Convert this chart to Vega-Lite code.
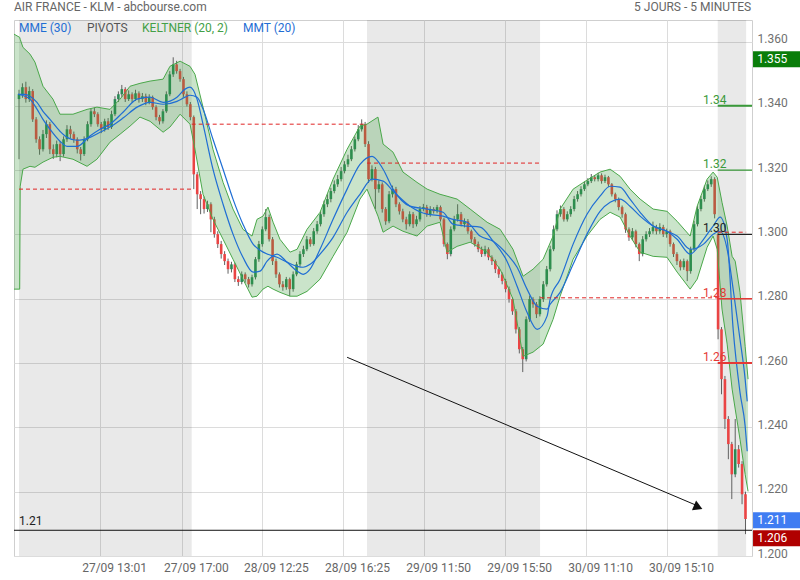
{
"$schema":"https://vega.github.io/schema/vega-lite/v6.json",
"width":738,"height":536,
"autosize":"none",
"padding":{"left":14,"top":20,"right":48,"bottom":24},
"background":"white",
"config":{"view":{"stroke":"#cfcfcf"},"axis":{"labelFont":"Roboto"},"text":{"font":"Roboto"}},
"datasets":{
"sessions":[{"a":0,"b":100.8},{"a":203.1,"b":304.1},{"a":407.8,"b":424.4}],
"candles":[
{"t":0,"o":1.3421,"h":1.345,"l":1.3234,"c":1.3436},
{"t":2,"o":1.3436,"h":1.347,"l":1.3425,"c":1.3458},
{"t":4,"o":1.3458,"h":1.3475,"l":1.341,"c":1.3421},
{"t":6,"o":1.3421,"h":1.346,"l":1.3412,"c":1.3446},
{"t":8,"o":1.3446,"h":1.3452,"l":1.335,"c":1.3358},
{"t":10,"o":1.3358,"h":1.3365,"l":1.3285,"c":1.3296},
{"t":12,"o":1.3296,"h":1.3305,"l":1.3248,"c":1.3265},
{"t":14,"o":1.3265,"h":1.3325,"l":1.3258,"c":1.3312},
{"t":16,"o":1.3312,"h":1.3355,"l":1.33,"c":1.3343},
{"t":18,"o":1.3343,"h":1.335,"l":1.325,"c":1.3265},
{"t":20,"o":1.3265,"h":1.328,"l":1.3235,"c":1.325},
{"t":22,"o":1.325,"h":1.3292,"l":1.324,"c":1.3281},
{"t":24,"o":1.3281,"h":1.329,"l":1.3228,"c":1.325},
{"t":26,"o":1.325,"h":1.3305,"l":1.3242,"c":1.3296},
{"t":28,"o":1.3296,"h":1.334,"l":1.3288,"c":1.3327},
{"t":30,"o":1.3327,"h":1.3338,"l":1.33,"c":1.3312},
{"t":32,"o":1.3312,"h":1.332,"l":1.3285,"c":1.3296},
{"t":34,"o":1.3296,"h":1.3302,"l":1.3252,"c":1.3265},
{"t":36,"o":1.3265,"h":1.3272,"l":1.323,"c":1.325},
{"t":38,"o":1.325,"h":1.3305,"l":1.3244,"c":1.3296},
{"t":40,"o":1.3296,"h":1.3352,"l":1.329,"c":1.3343},
{"t":42,"o":1.3343,"h":1.3392,"l":1.3335,"c":1.3383},
{"t":44,"o":1.3383,"h":1.3395,"l":1.3365,"c":1.3374},
{"t":46,"o":1.3374,"h":1.338,"l":1.3335,"c":1.3343},
{"t":48,"o":1.3343,"h":1.335,"l":1.3315,"c":1.3327},
{"t":50,"o":1.3327,"h":1.336,"l":1.332,"c":1.3352},
{"t":52,"o":1.3352,"h":1.3362,"l":1.3325,"c":1.3334},
{"t":54,"o":1.3334,"h":1.3385,"l":1.3328,"c":1.3374},
{"t":56,"o":1.3374,"h":1.343,"l":1.3368,"c":1.3421},
{"t":58,"o":1.3421,"h":1.3445,"l":1.3412,"c":1.3436},
{"t":60,"o":1.3436,"h":1.3465,"l":1.3428,"c":1.3452},
{"t":62,"o":1.3452,"h":1.3458,"l":1.3412,"c":1.3421},
{"t":64,"o":1.3421,"h":1.3448,"l":1.3415,"c":1.3436},
{"t":66,"o":1.3436,"h":1.3442,"l":1.341,"c":1.3421},
{"t":68,"o":1.3421,"h":1.345,"l":1.3415,"c":1.3439},
{"t":70,"o":1.3439,"h":1.3445,"l":1.341,"c":1.3421},
{"t":72,"o":1.3421,"h":1.344,"l":1.3412,"c":1.343},
{"t":74,"o":1.343,"h":1.3438,"l":1.3402,"c":1.3411},
{"t":76,"o":1.3411,"h":1.3436,"l":1.3405,"c":1.3427},
{"t":78,"o":1.3427,"h":1.3432,"l":1.3388,"c":1.3396},
{"t":80,"o":1.3396,"h":1.3402,"l":1.3355,"c":1.3365},
{"t":82,"o":1.3365,"h":1.3372,"l":1.3342,"c":1.3352},
{"t":84,"o":1.3352,"h":1.339,"l":1.3345,"c":1.3383},
{"t":86,"o":1.3383,"h":1.3445,"l":1.3378,"c":1.3436},
{"t":88,"o":1.3436,"h":1.3508,"l":1.343,"c":1.3498},
{"t":90,"o":1.3498,"h":1.3551,"l":1.349,"c":1.3529},
{"t":92,"o":1.3529,"h":1.354,"l":1.35,"c":1.3508},
{"t":94,"o":1.3508,"h":1.3515,"l":1.3475,"c":1.3483},
{"t":96,"o":1.3483,"h":1.349,"l":1.3428,"c":1.3436},
{"t":98,"o":1.3436,"h":1.3445,"l":1.3398,"c":1.3405},
{"t":100,"o":1.3405,"h":1.3412,"l":1.3355,"c":1.3365},
{"t":102,"o":1.3365,"h":1.337,"l":1.3141,"c":1.3187},
{"t":104,"o":1.3187,"h":1.3195,"l":1.3079,"c":1.3125},
{"t":106,"o":1.3125,"h":1.3135,"l":1.3063,"c":1.311},
{"t":108,"o":1.311,"h":1.3118,"l":1.3065,"c":1.3079},
{"t":110,"o":1.3079,"h":1.3105,"l":1.307,"c":1.3094},
{"t":112,"o":1.3094,"h":1.31,"l":1.3007,"c":1.3047},
{"t":114,"o":1.3047,"h":1.3055,"l":1.299,"c":1.3001},
{"t":116,"o":1.3001,"h":1.301,"l":1.2958,"c":1.297},
{"t":118,"o":1.297,"h":1.298,"l":1.2925,"c":1.2939},
{"t":120,"o":1.2939,"h":1.2948,"l":1.2905,"c":1.2917},
{"t":122,"o":1.2917,"h":1.2925,"l":1.2878,"c":1.2892},
{"t":124,"o":1.2892,"h":1.2915,"l":1.2882,"c":1.2907},
{"t":126,"o":1.2907,"h":1.2912,"l":1.2852,"c":1.2861},
{"t":128,"o":1.2861,"h":1.287,"l":1.284,"c":1.2852},
{"t":130,"o":1.2852,"h":1.2885,"l":1.2845,"c":1.2876},
{"t":132,"o":1.2876,"h":1.2882,"l":1.285,"c":1.2861},
{"t":134,"o":1.2861,"h":1.2868,"l":1.2835,"c":1.2845},
{"t":136,"o":1.2845,"h":1.2875,"l":1.2838,"c":1.2867},
{"t":138,"o":1.2867,"h":1.293,"l":1.286,"c":1.2923},
{"t":140,"o":1.2923,"h":1.298,"l":1.2915,"c":1.297},
{"t":142,"o":1.297,"h":1.3025,"l":1.2962,"c":1.3016},
{"t":144,"o":1.3016,"h":1.3079,"l":1.301,"c":1.3054},
{"t":146,"o":1.3054,"h":1.3062,"l":1.2978,"c":1.2985},
{"t":148,"o":1.2985,"h":1.2992,"l":1.2905,"c":1.2917},
{"t":150,"o":1.2917,"h":1.2925,"l":1.2865,"c":1.2876},
{"t":152,"o":1.2876,"h":1.2882,"l":1.2835,"c":1.2845},
{"t":154,"o":1.2845,"h":1.2855,"l":1.2825,"c":1.2836},
{"t":156,"o":1.2836,"h":1.2868,"l":1.2828,"c":1.2861},
{"t":158,"o":1.2861,"h":1.2866,"l":1.2808,"c":1.283},
{"t":160,"o":1.283,"h":1.2885,"l":1.2822,"c":1.2876},
{"t":162,"o":1.2876,"h":1.2915,"l":1.287,"c":1.2907},
{"t":164,"o":1.2907,"h":1.2948,"l":1.29,"c":1.2939},
{"t":166,"o":1.2939,"h":1.2965,"l":1.293,"c":1.2954},
{"t":168,"o":1.2954,"h":1.2995,"l":1.2948,"c":1.2985},
{"t":170,"o":1.2985,"h":1.2992,"l":1.2962,"c":1.297},
{"t":172,"o":1.297,"h":1.302,"l":1.2965,"c":1.301},
{"t":174,"o":1.301,"h":1.3042,"l":1.3002,"c":1.3032},
{"t":176,"o":1.3032,"h":1.3072,"l":1.3025,"c":1.3063},
{"t":178,"o":1.3063,"h":1.3105,"l":1.3055,"c":1.3094},
{"t":180,"o":1.3094,"h":1.3125,"l":1.3085,"c":1.311},
{"t":182,"o":1.311,"h":1.3145,"l":1.31,"c":1.3135},
{"t":184,"o":1.3135,"h":1.3168,"l":1.3128,"c":1.3156},
{"t":186,"o":1.3156,"h":1.3185,"l":1.3148,"c":1.3172},
{"t":188,"o":1.3172,"h":1.321,"l":1.3165,"c":1.3197},
{"t":190,"o":1.3197,"h":1.3228,"l":1.319,"c":1.3218},
{"t":192,"o":1.3218,"h":1.3248,"l":1.321,"c":1.3234},
{"t":194,"o":1.3234,"h":1.3275,"l":1.3228,"c":1.3265},
{"t":196,"o":1.3265,"h":1.3305,"l":1.3258,"c":1.3296},
{"t":198,"o":1.3296,"h":1.334,"l":1.329,"c":1.3327},
{"t":200,"o":1.3327,"h":1.3358,"l":1.332,"c":1.3343},
{"t":202,"o":1.3343,"h":1.335,"l":1.3272,"c":1.3281},
{"t":204,"o":1.3281,"h":1.329,"l":1.316,"c":1.3172},
{"t":206,"o":1.3172,"h":1.3215,"l":1.3165,"c":1.3203},
{"t":208,"o":1.3203,"h":1.321,"l":1.3079,"c":1.3141},
{"t":210,"o":1.3141,"h":1.3168,"l":1.313,"c":1.3156},
{"t":212,"o":1.3156,"h":1.3162,"l":1.3068,"c":1.3079},
{"t":214,"o":1.3079,"h":1.3085,"l":1.303,"c":1.3041},
{"t":216,"o":1.3041,"h":1.3135,"l":1.3035,"c":1.3125},
{"t":218,"o":1.3125,"h":1.3152,"l":1.3115,"c":1.3141},
{"t":220,"o":1.3141,"h":1.3148,"l":1.3085,"c":1.3094},
{"t":222,"o":1.3094,"h":1.31,"l":1.3062,"c":1.3072},
{"t":224,"o":1.3072,"h":1.308,"l":1.3038,"c":1.3047},
{"t":226,"o":1.3047,"h":1.3055,"l":1.3015,"c":1.3032},
{"t":228,"o":1.3032,"h":1.3072,"l":1.3025,"c":1.3063},
{"t":230,"o":1.3063,"h":1.307,"l":1.302,"c":1.3032},
{"t":232,"o":1.3032,"h":1.3058,"l":1.3025,"c":1.3047},
{"t":234,"o":1.3047,"h":1.3088,"l":1.304,"c":1.3079},
{"t":236,"o":1.3079,"h":1.3095,"l":1.3072,"c":1.3085},
{"t":238,"o":1.3085,"h":1.3092,"l":1.3055,"c":1.3063},
{"t":240,"o":1.3063,"h":1.3088,"l":1.3055,"c":1.3079},
{"t":242,"o":1.3079,"h":1.3085,"l":1.3065,"c":1.3072},
{"t":244,"o":1.3072,"h":1.3092,"l":1.3066,"c":1.3085},
{"t":246,"o":1.3085,"h":1.309,"l":1.304,"c":1.3047},
{"t":248,"o":1.3047,"h":1.3052,"l":1.2962,"c":1.297},
{"t":250,"o":1.297,"h":1.2975,"l":1.2923,"c":1.2939},
{"t":252,"o":1.2939,"h":1.3025,"l":1.2932,"c":1.3016},
{"t":254,"o":1.3016,"h":1.3058,"l":1.301,"c":1.3047},
{"t":256,"o":1.3047,"h":1.3094,"l":1.304,"c":1.3063},
{"t":258,"o":1.3063,"h":1.307,"l":1.3025,"c":1.3032},
{"t":260,"o":1.3032,"h":1.305,"l":1.3022,"c":1.3041},
{"t":262,"o":1.3041,"h":1.3048,"l":1.3002,"c":1.301},
{"t":264,"o":1.301,"h":1.3015,"l":1.2975,"c":1.2985},
{"t":266,"o":1.2985,"h":1.2992,"l":1.2962,"c":1.297},
{"t":268,"o":1.297,"h":1.2978,"l":1.2945,"c":1.2954},
{"t":270,"o":1.2954,"h":1.2962,"l":1.293,"c":1.2939},
{"t":272,"o":1.2939,"h":1.2965,"l":1.2932,"c":1.2954},
{"t":274,"o":1.2954,"h":1.296,"l":1.292,"c":1.2929},
{"t":276,"o":1.2929,"h":1.2935,"l":1.2905,"c":1.2917},
{"t":278,"o":1.2917,"h":1.2922,"l":1.288,"c":1.2892},
{"t":280,"o":1.2892,"h":1.29,"l":1.2865,"c":1.2876},
{"t":282,"o":1.2876,"h":1.2882,"l":1.2845,"c":1.2855},
{"t":284,"o":1.2855,"h":1.2862,"l":1.282,"c":1.283},
{"t":286,"o":1.283,"h":1.2838,"l":1.2788,"c":1.2799},
{"t":288,"o":1.2799,"h":1.2805,"l":1.275,"c":1.2761},
{"t":290,"o":1.2761,"h":1.2768,"l":1.2692,"c":1.2705},
{"t":292,"o":1.2705,"h":1.2712,"l":1.263,"c":1.2643},
{"t":294,"o":1.2643,"h":1.265,"l":1.2572,"c":1.2612},
{"t":296,"o":1.2612,"h":1.2745,"l":1.2605,"c":1.2736},
{"t":298,"o":1.2736,"h":1.281,"l":1.2728,"c":1.2799},
{"t":300,"o":1.2799,"h":1.2805,"l":1.2772,"c":1.2783},
{"t":302,"o":1.2783,"h":1.279,"l":1.274,"c":1.2752},
{"t":304,"o":1.2752,"h":1.2808,"l":1.2745,"c":1.2799},
{"t":306,"o":1.2799,"h":1.2855,"l":1.279,"c":1.2845},
{"t":308,"o":1.2845,"h":1.2902,"l":1.2838,"c":1.2892},
{"t":310,"o":1.2892,"h":1.2965,"l":1.2885,"c":1.2954},
{"t":312,"o":1.2954,"h":1.3028,"l":1.2948,"c":1.3016},
{"t":314,"o":1.3016,"h":1.3075,"l":1.301,"c":1.3063},
{"t":316,"o":1.3063,"h":1.309,"l":1.3055,"c":1.3079},
{"t":318,"o":1.3079,"h":1.3085,"l":1.304,"c":1.3047},
{"t":320,"o":1.3047,"h":1.3072,"l":1.304,"c":1.3063},
{"t":322,"o":1.3063,"h":1.3088,"l":1.3055,"c":1.3079},
{"t":324,"o":1.3079,"h":1.312,"l":1.3072,"c":1.311},
{"t":326,"o":1.311,"h":1.3135,"l":1.3102,"c":1.3125},
{"t":328,"o":1.3125,"h":1.315,"l":1.3118,"c":1.3141},
{"t":330,"o":1.3141,"h":1.3165,"l":1.3135,"c":1.3156},
{"t":332,"o":1.3156,"h":1.3175,"l":1.315,"c":1.3166},
{"t":334,"o":1.3166,"h":1.3188,"l":1.316,"c":1.3178},
{"t":336,"o":1.3178,"h":1.3185,"l":1.3165,"c":1.3172},
{"t":338,"o":1.3172,"h":1.3192,"l":1.3165,"c":1.3184},
{"t":340,"o":1.3184,"h":1.319,"l":1.3158,"c":1.3166},
{"t":342,"o":1.3166,"h":1.3186,"l":1.316,"c":1.3178},
{"t":344,"o":1.3178,"h":1.3182,"l":1.3148,"c":1.3156},
{"t":346,"o":1.3156,"h":1.316,"l":1.3118,"c":1.3125},
{"t":348,"o":1.3125,"h":1.313,"l":1.31,"c":1.311},
{"t":350,"o":1.311,"h":1.3115,"l":1.3075,"c":1.3085},
{"t":352,"o":1.3085,"h":1.309,"l":1.3052,"c":1.3063},
{"t":354,"o":1.3063,"h":1.3068,"l":1.3005,"c":1.3016},
{"t":356,"o":1.3016,"h":1.3022,"l":1.298,"c":1.2991},
{"t":358,"o":1.2991,"h":1.302,"l":1.2982,"c":1.301},
{"t":360,"o":1.301,"h":1.3015,"l":1.296,"c":1.297},
{"t":362,"o":1.297,"h":1.2975,"l":1.2917,"c":1.2939},
{"t":364,"o":1.2939,"h":1.2995,"l":1.2932,"c":1.2985},
{"t":366,"o":1.2985,"h":1.301,"l":1.2978,"c":1.3001},
{"t":368,"o":1.3001,"h":1.302,"l":1.2992,"c":1.301},
{"t":370,"o":1.301,"h":1.304,"l":1.3002,"c":1.3023},
{"t":372,"o":1.3023,"h":1.303,"l":1.3,"c":1.301},
{"t":374,"o":1.301,"h":1.3035,"l":1.3002,"c":1.3023},
{"t":376,"o":1.3023,"h":1.303,"l":1.2992,"c":1.3001},
{"t":378,"o":1.3001,"h":1.3018,"l":1.299,"c":1.301},
{"t":380,"o":1.301,"h":1.3015,"l":1.2962,"c":1.297},
{"t":382,"o":1.297,"h":1.2975,"l":1.293,"c":1.2939},
{"t":384,"o":1.2939,"h":1.2945,"l":1.2905,"c":1.2917},
{"t":386,"o":1.2917,"h":1.2922,"l":1.2888,"c":1.2898},
{"t":388,"o":1.2898,"h":1.2925,"l":1.289,"c":1.2917},
{"t":390,"o":1.2917,"h":1.2922,"l":1.2855,"c":1.2886},
{"t":392,"o":1.2886,"h":1.2962,"l":1.2878,"c":1.2954},
{"t":394,"o":1.2954,"h":1.3042,"l":1.2948,"c":1.3032},
{"t":396,"o":1.3032,"h":1.3088,"l":1.3025,"c":1.3079},
{"t":398,"o":1.3079,"h":1.312,"l":1.3072,"c":1.311},
{"t":400,"o":1.311,"h":1.3152,"l":1.3102,"c":1.3141},
{"t":402,"o":1.3141,"h":1.3168,"l":1.3135,"c":1.3156},
{"t":404,"o":1.3156,"h":1.3181,"l":1.3148,"c":1.3172},
{"t":406,"o":1.3172,"h":1.3178,"l":1.305,"c":1.3063},
{"t":408,"o":1.3,"h":1.3005,"l":1.2674,"c":1.2705},
{"t":410,"o":1.2705,"h":1.2712,"l":1.2503,"c":1.255},
{"t":412,"o":1.255,"h":1.256,"l":1.2395,"c":1.2426},
{"t":414,"o":1.2426,"h":1.2435,"l":1.2301,"c":1.2348},
{"t":416,"o":1.2348,"h":1.2355,"l":1.2177,"c":1.2254},
{"t":418,"o":1.2254,"h":1.2426,"l":1.2245,"c":1.2332},
{"t":420,"o":1.2332,"h":1.2345,"l":1.2275,"c":1.2286},
{"t":422,"o":1.2286,"h":1.2295,"l":1.2161,"c":1.2192},
{"t":424,"o":1.2192,"h":1.22,"l":1.2068,"c":1.2115}
],
"band":[
{"t":-2.92,"up":1.3623,"lo":1.283},{"t":0.4,"up":1.3613,"lo":1.283},{"t":0.7,"up":1.3607,"lo":1.315},{"t":2.3,"up":1.3582,"lo":1.3203},{"t":6.4,"up":1.3561,"lo":1.3212},{"t":9.3,"up":1.3536,"lo":1.3209},{"t":14,"up":1.3461,"lo":1.3225},{"t":19.8,"up":1.3421,"lo":1.324},{"t":23.9,"up":1.3374,"lo":1.3243},{"t":31.5,"up":1.3374,"lo":1.3234},{"t":39.7,"up":1.3389,"lo":1.3212},{"t":45.5,"up":1.3396,"lo":1.3234},{"t":53.1,"up":1.3389,"lo":1.3287},{"t":59,"up":1.3421,"lo":1.3312},{"t":64.8,"up":1.3461,"lo":1.3337},{"t":70.6,"up":1.347,"lo":1.3365},{"t":76.5,"up":1.3477,"lo":1.3352},{"t":84.1,"up":1.3483,"lo":1.3318},{"t":88.1,"up":1.3523,"lo":1.3334},{"t":94,"up":1.3539,"lo":1.3374},{"t":99.8,"up":1.3523,"lo":1.3343},{"t":102.7,"up":1.3498,"lo":1.3265},{"t":107.4,"up":1.3396,"lo":1.3125},{"t":113.2,"up":1.3265,"lo":1.3047},{"t":119.1,"up":1.3162,"lo":1.2985},{"t":124.9,"up":1.3079,"lo":1.2923},{"t":130.7,"up":1.3016,"lo":1.2861},{"t":136,"up":1.2995,"lo":1.2805},{"t":138.9,"up":1.3047,"lo":1.2808},{"t":142.4,"up":1.3057,"lo":1.283},{"t":145.3,"up":1.3085,"lo":1.2839},{"t":148.3,"up":1.3038,"lo":1.283},{"t":152.3,"up":1.2985,"lo":1.282},{"t":158.2,"up":1.2945,"lo":1.2808},{"t":162.3,"up":1.2954,"lo":1.2808},{"t":168.1,"up":1.3016,"lo":1.2823},{"t":175.7,"up":1.3069,"lo":1.2861},{"t":183.3,"up":1.3172,"lo":1.2932},{"t":191.5,"up":1.3265,"lo":1.3007},{"t":199,"up":1.3337,"lo":1.311},{"t":203.1,"up":1.3343,"lo":1.3141},{"t":209.5,"up":1.3365,"lo":1.3057},{"t":212.5,"up":1.3281,"lo":1.3007},{"t":218.3,"up":1.3256,"lo":1.3026},{"t":224.1,"up":1.3194,"lo":1.301},{"t":232.3,"up":1.3162,"lo":1.2995},{"t":238.2,"up":1.3141,"lo":1.3026},{"t":245.7,"up":1.3125,"lo":1.3038},{"t":249.8,"up":1.3119,"lo":1.2945},{"t":255.7,"up":1.311,"lo":1.2963},{"t":263.3,"up":1.3079,"lo":1.2976},{"t":273.2,"up":1.3038,"lo":1.2945},{"t":280.8,"up":1.3016,"lo":1.2892},{"t":288.3,"up":1.2954,"lo":1.2799},{"t":294.2,"up":1.287,"lo":1.2621},{"t":300,"up":1.2892,"lo":1.2634},{"t":305.9,"up":1.2923,"lo":1.2659},{"t":311.7,"up":1.2995,"lo":1.2736},{"t":315.8,"up":1.3079,"lo":1.2808},{"t":323.4,"up":1.3141,"lo":1.2923},{"t":331.5,"up":1.3169,"lo":1.2995},{"t":339.1,"up":1.3194,"lo":1.3047},{"t":345,"up":1.3203,"lo":1.3069},{"t":350.8,"up":1.3181,"lo":1.3054},{"t":356.6,"up":1.3141,"lo":1.2995},{"t":362.5,"up":1.311,"lo":1.2945},{"t":370.1,"up":1.3079,"lo":1.2932},{"t":378.2,"up":1.3072,"lo":1.2929},{"t":384.1,"up":1.3041,"lo":1.2883},{"t":391.7,"up":1.2995,"lo":1.283},{"t":395.8,"up":1.3088,"lo":1.2861},{"t":401.6,"up":1.3172,"lo":1.296},{"t":405.1,"up":1.3194,"lo":1.2995},{"t":407.5,"up":1.3178,"lo":1.2954},{"t":410.3,"up":1.31,"lo":1.2768},{"t":413.3,"up":1.3026,"lo":1.2659},{"t":416.2,"up":1.2932,"lo":1.2519},{"t":418,"up":1.2917,"lo":1.2457},{"t":420.8,"up":1.282,"lo":1.2363},{"t":423.8,"up":1.2652,"lo":1.2254},{"t":425.5,"up":1.255,"lo":1.2201}
],
"ma":[
{"t":-0.6,"m1":1.3436,"m2":1.3436},{"t":3.5,"m1":1.343,"m2":1.3436},{"t":6.4,"m1":1.3421,"m2":1.343},{"t":10.5,"m1":1.339,"m2":1.3411},{"t":14,"m1":1.3358,"m2":1.3383},{"t":18.1,"m1":1.3327,"m2":1.3358},{"t":23.9,"m1":1.329,"m2":1.3321},{"t":28,"m1":1.3274,"m2":1.3302},{"t":33.9,"m1":1.3274,"m2":1.3293},{"t":41.4,"m1":1.3306,"m2":1.3302},{"t":47.3,"m1":1.3327,"m2":1.3318},{"t":53.1,"m1":1.3343,"m2":1.3334},{"t":60.7,"m1":1.338,"m2":1.3362},{"t":68.9,"m1":1.3421,"m2":1.3396},{"t":76.5,"m1":1.3427,"m2":1.3411},{"t":84.1,"m1":1.3411,"m2":1.3405},{"t":92.2,"m1":1.3427,"m2":1.3414},{"t":96.9,"m1":1.3452,"m2":1.3427},{"t":99.8,"m1":1.3458,"m2":1.3433},{"t":103.9,"m1":1.3421,"m2":1.3427},{"t":107.4,"m1":1.3343,"m2":1.339},{"t":113.2,"m1":1.3203,"m2":1.3296},{"t":119.1,"m1":1.3094,"m2":1.3203},{"t":124.9,"m1":1.3001,"m2":1.311},{"t":130.7,"m1":1.2929,"m2":1.3032},{"t":136.6,"m1":1.2883,"m2":1.297},{"t":140.7,"m1":1.2886,"m2":1.2951},{"t":144.8,"m1":1.2917,"m2":1.2939},{"t":150.6,"m1":1.2939,"m2":1.2929},{"t":156.4,"m1":1.2914,"m2":1.2914},{"t":162.3,"m1":1.2886,"m2":1.2901},{"t":165.8,"m1":1.2876,"m2":1.2898},{"t":169.9,"m1":1.2892,"m2":1.2907},{"t":175.7,"m1":1.2954,"m2":1.2939},{"t":183.3,"m1":1.3047,"m2":1.2991},{"t":191.5,"m1":1.3141,"m2":1.3069},{"t":199,"m1":1.3218,"m2":1.3125},{"t":206.1,"m1":1.3243,"m2":1.3172},{"t":212.5,"m1":1.3203,"m2":1.3166},{"t":218.3,"m1":1.3141,"m2":1.3135},{"t":228.2,"m1":1.3088,"m2":1.3088},{"t":238.2,"m1":1.3079,"m2":1.3063},{"t":247.5,"m1":1.3069,"m2":1.3057},{"t":253.3,"m1":1.3032,"m2":1.3047},{"t":261.5,"m1":1.3026,"m2":1.3038},{"t":269.1,"m1":1.3023,"m2":1.2995},{"t":276.7,"m1":1.2979,"m2":1.2979},{"t":284.8,"m1":1.2917,"m2":1.2939},{"t":290.7,"m1":1.2839,"m2":1.2898},{"t":296.5,"m1":1.2758,"m2":1.283},{"t":302.4,"m1":1.2705,"m2":1.2777},{"t":308.2,"m1":1.2746,"m2":1.2768},{"t":310,"m1":1.2799,"m2":1.2783},{"t":315.8,"m1":1.2861,"m2":1.282},{"t":323.4,"m1":1.297,"m2":1.2907},{"t":331.5,"m1":1.3063,"m2":1.3001},{"t":339.1,"m1":1.3119,"m2":1.3072},{"t":345,"m1":1.315,"m2":1.31},{"t":350.8,"m1":1.3147,"m2":1.311},{"t":356.6,"m1":1.311,"m2":1.3088},{"t":362.5,"m1":1.3069,"m2":1.3057},{"t":370.1,"m1":1.3026,"m2":1.3026},{"t":378.2,"m1":1.301,"m2":1.301},{"t":384.1,"m1":1.2985,"m2":1.2995},{"t":391.7,"m1":1.2939,"m2":1.2954},{"t":399.5,"m1":1.2985,"m2":1.297},{"t":405.1,"m1":1.3026,"m2":1.3001},{"t":409.2,"m1":1.3054,"m2":1.301},{"t":413.3,"m1":1.2985,"m2":1.2954},{"t":416.8,"m1":1.2705,"m2":1.283},{"t":420.8,"m1":1.2509,"m2":1.2674},{"t":423.8,"m1":1.2404,"m2":1.255},{"t":425,"m1":1.2326,"m2":1.2481}
],
"pivots":[{"a":0,"b":100.8,"p":1.3141},{"a":100.8,"b":203.1,"p":1.3343},{"a":203.1,"b":304.1,"p":1.3222},{"a":304.1,"b":407.8,"p":1.2803},{"a":407.8,"b":424.4,"p":1.3007}],
"levels":[{"lvl":1.34},{"lvl":1.32},{"lvl":1.3},{"lvl":1.28},{"lvl":1.26}]
},
"layer":[
{"data":{"name":"sessions"},"mark":{"type":"rect","fill":"#000000","opacity":0.088},
 "encoding":{
  "x":{"field":"a","type":"quantitative","title":null,"scale":{"domain":[-2.92,427.8],"nice":false,"zero":false,"padding":0},
   "axis":{"values":[47.3,95.1,141.8,189.1,236.4,283.7,331.0,378.2],"labelExpr":"datum.value < 60 ? '27/09 13:01' : datum.value < 110 ? '27/09 17:00' : datum.value < 160 ? '28/09 12:25' : datum.value < 210 ? '28/09 16:25' : datum.value < 260 ? '29/09 11:50' : datum.value < 300 ? '29/09 15:50' : datum.value < 350 ? '30/09 11:10' : '30/09 15:10'","grid":true,"gridColor":"#dcdcdc","domain":false,"ticks":false,"labelPadding":6,"labelOffset":14,"labelFontSize":12,"labelColor":"#666666","title":null,"labelFlush":false,"labelOverlap":false}},
  "x2":{"field":"b"},
  "y":{"datum":1.2,"type":"quantitative","title":null,"scale":{"domain":[1.2,1.3667],"nice":false,"zero":false,"padding":0},
   "axis":{"orient":"right","values":[1.2,1.22,1.24,1.26,1.28,1.3,1.32,1.34,1.36],"format":".3f","grid":true,"gridColor":"#dcdcdc","domain":false,"ticks":false,"labelPadding":5,"labelFontSize":12,"labelColor":"#707070","labelAlign":"left","labelBaseline":"middle","labelOffset":-3,"title":null,"labelFlush":false,"labelOverlap":false}},
  "y2":{"datum":1.3667}}},
{"data":{"name":"candles"},"mark":{"type":"rule","color":"#606060","strokeWidth":1},
 "encoding":{"x":{"field":"t","type":"quantitative","title":null,"scale":{"domain":[-2.92,427.8],"nice":false,"zero":false,"padding":0}},
  "y":{"field":"l","type":"quantitative","title":null,"scale":{"domain":[1.2,1.3667],"nice":false,"zero":false,"padding":0}},"y2":{"field":"h"}}},
{"data":{"name":"candles"},"mark":{"type":"bar","size":2.6},
 "encoding":{"x":{"field":"t","type":"quantitative","title":null,"scale":{"domain":[-2.92,427.8],"nice":false,"zero":false,"padding":0}},
  "y":{"field":"o","type":"quantitative","title":null,"scale":{"domain":[1.2,1.3667],"nice":false,"zero":false,"padding":0}},"y2":{"field":"c"},
  "color":{"condition":{"test":"datum.c >= datum.o","value":"#2a8a55"},"value":"#ea4444"}}},
{"data":{"name":"band"},"mark":{"type":"area","fill":"#3c9c3c","fillOpacity":0.27},
 "encoding":{"x":{"field":"t","type":"quantitative","title":null,"scale":{"domain":[-2.92,427.8],"nice":false,"zero":false,"padding":0}},
  "y":{"field":"up","type":"quantitative","title":null,"scale":{"domain":[1.2,1.3667],"nice":false,"zero":false,"padding":0}},"y2":{"field":"lo"}}},
{"data":{"name":"band"},"mark":{"type":"line","color":"#4aa84a","strokeWidth":1},
 "encoding":{"x":{"field":"t","type":"quantitative","title":null,"scale":{"domain":[-2.92,427.8],"nice":false,"zero":false,"padding":0}},
  "y":{"field":"up","type":"quantitative","title":null,"scale":{"domain":[1.2,1.3667],"nice":false,"zero":false,"padding":0}}}},
{"data":{"name":"band"},"mark":{"type":"line","color":"#4aa84a","strokeWidth":1},
 "encoding":{"x":{"field":"t","type":"quantitative","title":null,"scale":{"domain":[-2.92,427.8],"nice":false,"zero":false,"padding":0}},
  "y":{"field":"lo","type":"quantitative","title":null,"scale":{"domain":[1.2,1.3667],"nice":false,"zero":false,"padding":0}}}},
{"data":{"name":"ma"},"mark":{"type":"line","color":"#1f6ed4","strokeWidth":1.2,"interpolate":"monotone"},
 "encoding":{"x":{"field":"t","type":"quantitative","title":null,"scale":{"domain":[-2.92,427.8],"nice":false,"zero":false,"padding":0}},
  "y":{"field":"m1","type":"quantitative","title":null,"scale":{"domain":[1.2,1.3667],"nice":false,"zero":false,"padding":0}}}},
{"data":{"name":"ma"},"mark":{"type":"line","color":"#1f6ed4","strokeWidth":1.2,"interpolate":"monotone"},
 "encoding":{"x":{"field":"t","type":"quantitative","title":null,"scale":{"domain":[-2.92,427.8],"nice":false,"zero":false,"padding":0}},
  "y":{"field":"m2","type":"quantitative","title":null,"scale":{"domain":[1.2,1.3667],"nice":false,"zero":false,"padding":0}}}},
{"data":{"name":"pivots"},"mark":{"type":"rule","color":"#e02424","strokeWidth":1,"strokeDash":[4,3]},
 "encoding":{"x":{"field":"a","type":"quantitative","title":null,"scale":{"domain":[-2.92,427.8],"nice":false,"zero":false,"padding":0}},"x2":{"field":"b"},
  "y":{"field":"p","type":"quantitative","title":null,"scale":{"domain":[1.2,1.3667],"nice":false,"zero":false,"padding":0}}}},
{"data":{"name":"levels"},"mark":{"type":"rule"},
 "encoding":{"x":{"datum":407.8,"type":"quantitative","title":null,"scale":{"domain":[-2.92,427.8],"nice":false,"zero":false,"padding":0}},"x2":{"datum":427.8},
  "y":{"field":"lvl","type":"quantitative","title":null,"scale":{"domain":[1.2,1.3667],"nice":false,"zero":false,"padding":0}},
  "color":{"condition":[{"test":"datum.lvl > 1.305","value":"#3a9a3a"},{"test":"datum.lvl < 1.295","value":"#e53935"}],"value":"#222222"},
  "strokeWidth":{"condition":{"test":"datum.lvl == 1.34 || datum.lvl == 1.26","value":2},"value":1.3}}},
{"data":{"name":"levels"},"mark":{"type":"text","align":"center","baseline":"middle","dx":-3,"dy":-6,"fontSize":12},
 "encoding":{"x":{"datum":407.8,"type":"quantitative","title":null,"scale":{"domain":[-2.92,427.8],"nice":false,"zero":false,"padding":0}},
  "y":{"field":"lvl","type":"quantitative","title":null,"scale":{"domain":[1.2,1.3667],"nice":false,"zero":false,"padding":0}},
  "text":{"field":"lvl","type":"quantitative","format":".2f"},
  "color":{"condition":[{"test":"datum.lvl > 1.305","value":"#3a9a3a"},{"test":"datum.lvl < 1.295","value":"#e53935"}],"value":"#222222"}}},
{"data":{"values":[{}]},"mark":{"type":"rule","color":"#111111","strokeWidth":1},
 "encoding":{"y":{"datum":1.208,"type":"quantitative","title":null,"scale":{"domain":[1.2,1.3667],"nice":false,"zero":false,"padding":0}}}},
{"data":{"values":[{}]},"mark":{"type":"text","text":"1.21","align":"left","baseline":"middle","fontSize":12,"color":"#222222"},
 "encoding":{"x":{"datum":0,"type":"quantitative","title":null,"scale":{"domain":[-2.92,427.8],"nice":false,"zero":false,"padding":0}},
  "y":{"datum":1.2108,"type":"quantitative","title":null,"scale":{"domain":[1.2,1.3667],"nice":false,"zero":false,"padding":0}}}},
{"data":{"values":[{}]},"mark":{"type":"rule","color":"#111111","strokeWidth":1},
 "encoding":{"x":{"datum":191.5,"type":"quantitative","title":null,"scale":{"domain":[-2.92,427.8],"nice":false,"zero":false,"padding":0}},"x2":{"datum":396.5},
  "y":{"datum":1.2618,"type":"quantitative","title":null,"scale":{"domain":[1.2,1.3667],"nice":false,"zero":false,"padding":0}},"y2":{"datum":1.2155}}},
{"data":{"values":[{}]},"mark":{"type":"point","shape":"triangle-right","filled":true,"color":"#111111","opacity":1,"size":110,"angle":23},
 "encoding":{"x":{"datum":396.4,"type":"quantitative","title":null,"scale":{"domain":[-2.92,427.8],"nice":false,"zero":false,"padding":0}},
  "y":{"datum":1.2152,"type":"quantitative","title":null,"scale":{"domain":[1.2,1.3667],"nice":false,"zero":false,"padding":0}}}},
{"data":{"values":[{}]},"mark":{"type":"text","text":"AIR FRANCE - KLM - abcbourse.com","align":"left","baseline":"middle","fontSize":12,"color":"#666666"},
 "encoding":{"x":{"datum":-2.92,"type":"quantitative","title":null,"scale":{"domain":[-2.92,427.8],"nice":false,"zero":false,"padding":0}},
  "y":{"datum":1.3707,"type":"quantitative","title":null,"scale":{"domain":[1.2,1.3667],"nice":false,"zero":false,"padding":0}}}},
{"data":{"values":[{}]},"mark":{"type":"text","text":"5 JOURS - 5 MINUTES","align":"right","baseline":"middle","fontSize":12,"color":"#666666"},
 "encoding":{"x":{"datum":427.3,"type":"quantitative","title":null,"scale":{"domain":[-2.92,427.8],"nice":false,"zero":false,"padding":0}},
  "y":{"datum":1.3707,"type":"quantitative","title":null,"scale":{"domain":[1.2,1.3667],"nice":false,"zero":false,"padding":0}}}},
{"data":{"values":[{}]},"mark":{"type":"text","text":"MME (30)","align":"left","baseline":"middle","fontSize":12,"color":"#1f6ed4"},
 "encoding":{"x":{"datum":0,"type":"quantitative","title":null,"scale":{"domain":[-2.92,427.8],"nice":false,"zero":false,"padding":0}},
  "y":{"datum":1.3641,"type":"quantitative","title":null,"scale":{"domain":[1.2,1.3667],"nice":false,"zero":false,"padding":0}}}},
{"data":{"values":[{}]},"mark":{"type":"text","text":"PIVOTS","align":"left","baseline":"middle","fontSize":12,"color":"#555555"},
 "encoding":{"x":{"datum":39.7,"type":"quantitative","title":null,"scale":{"domain":[-2.92,427.8],"nice":false,"zero":false,"padding":0}},
  "y":{"datum":1.3641,"type":"quantitative","title":null,"scale":{"domain":[1.2,1.3667],"nice":false,"zero":false,"padding":0}}}},
{"data":{"values":[{}]},"mark":{"type":"text","text":"KELTNER (20, 2)","align":"left","baseline":"middle","fontSize":12,"color":"#43a047"},
 "encoding":{"x":{"datum":71.8,"type":"quantitative","title":null,"scale":{"domain":[-2.92,427.8],"nice":false,"zero":false,"padding":0}},
  "y":{"datum":1.3641,"type":"quantitative","title":null,"scale":{"domain":[1.2,1.3667],"nice":false,"zero":false,"padding":0}}}},
{"data":{"values":[{}]},"mark":{"type":"text","text":"MMT (20)","align":"left","baseline":"middle","fontSize":12,"color":"#1f6ed4"},
 "encoding":{"x":{"datum":130.7,"type":"quantitative","title":null,"scale":{"domain":[-2.92,427.8],"nice":false,"zero":false,"padding":0}},
  "y":{"datum":1.3641,"type":"quantitative","title":null,"scale":{"domain":[1.2,1.3667],"nice":false,"zero":false,"padding":0}}}},
{"data":{"values":[{}]},"mark":{"type":"rect","color":"#0a7d0a"},
 "encoding":{"x":{"datum":428.4,"type":"quantitative","title":null,"scale":{"domain":[-2.92,427.8],"nice":false,"zero":false,"padding":0}},"x2":{"datum":456},
  "y":{"datum":1.357,"type":"quantitative","title":null,"scale":{"domain":[1.2,1.3667],"nice":false,"zero":false,"padding":0}},"y2":{"datum":1.352}}},
{"data":{"values":[{}]},"mark":{"type":"rect","color":"#3f7cf2"},
 "encoding":{"x":{"datum":428.4,"type":"quantitative","title":null,"scale":{"domain":[-2.92,427.8],"nice":false,"zero":false,"padding":0}},"x2":{"datum":456},
  "y":{"datum":1.2136,"type":"quantitative","title":null,"scale":{"domain":[1.2,1.3667],"nice":false,"zero":false,"padding":0}},"y2":{"datum":1.2086}}},
{"data":{"values":[{}]},"mark":{"type":"rect","color":"#b00000"},
 "encoding":{"x":{"datum":428.4,"type":"quantitative","title":null,"scale":{"domain":[-2.92,427.8],"nice":false,"zero":false,"padding":0}},"x2":{"datum":456},
  "y":{"datum":1.208,"type":"quantitative","title":null,"scale":{"domain":[1.2,1.3667],"nice":false,"zero":false,"padding":0}},"y2":{"datum":1.203}}},
{"data":{"values":[{"v":"1.355","p":1.3545},{"v":"1.211","p":1.2111},{"v":"1.206","p":1.2055}]},"mark":{"type":"text","align":"left","baseline":"middle","fontSize":12,"color":"#ffffff"},
 "encoding":{"x":{"datum":430.8,"type":"quantitative","title":null,"scale":{"domain":[-2.92,427.8],"nice":false,"zero":false,"padding":0}},
  "y":{"field":"p","type":"quantitative","title":null,"scale":{"domain":[1.2,1.3667],"nice":false,"zero":false,"padding":0}},
  "text":{"field":"v"}}}
]
}
